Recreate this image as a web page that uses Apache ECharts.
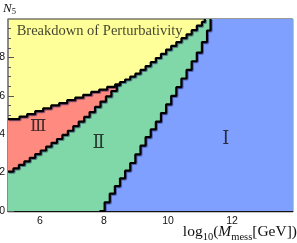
<!DOCTYPE html>
<html><head><meta charset="utf-8">
<script src="https://cdn.jsdelivr.net/npm/echarts@6/dist/echarts.min.js"></script>
<style>html,body{margin:0;padding:0;background:#fff}#c{width:297px;height:243px}</style>
</head><body><div id="c"></div>
<script>
// ---- data ----
const xMin = 5, xMax = 13.9, yMin = 0, yMax = 10;
const xMajorTicks = [6, 8, 10, 12];
const xMinorTicks = [5.5, 6.5, 7, 7.5, 8.5, 9, 9.5, 10.5, 11, 11.5, 12.5, 13, 13.5];
const yMajorTicks = [0, 2, 4, 6, 8];
const yMinorTicks = [0.5, 1, 1.5, 2.5, 3, 3.5, 4.5, 5, 5.5, 6.5, 7, 7.5, 8.5, 9, 9.5];

// upper edge of region III (border with "Breakdown of Perturbativity")
const uLeftX = [5.0, 5.36, 5.6, 5.85, 6.1, 6.35, 6.6, 6.85, 7.1, 7.35, 7.6, 7.85, 8.1, 8.35, 8.5];
const uLeftY = [4.78, 4.92, 5.05, 5.2, 5.35, 5.5, 5.62, 5.77, 5.9, 6.05, 6.2, 6.32, 6.47, 6.6, 6.72];
// upper edge of region II (border with breakdown region)
const uRightX = [8.66, 8.82, 8.98, 9.14, 9.30, 9.46, 9.62, 9.78, 9.94, 10.10, 10.26, 10.42, 10.58, 10.74, 10.90, 11.06, 11.15];
const uRightY = [6.85, 7.0, 7.15, 7.35, 7.55, 7.75, 7.97, 8.18, 8.4, 8.6, 8.8, 9.0, 9.2, 9.42, 9.65, 9.85, 10];
// border between region III and region II
const rX = [5.00, 5.17, 5.34, 5.51, 5.68, 5.85, 6.02, 6.19, 6.36, 6.53, 6.70, 6.87, 7.04, 7.21, 7.38, 7.55, 7.72, 7.89, 8.06, 8.23, 8.40, 8.5];
const rY = [2.05, 2.22, 2.40, 2.58, 2.77, 2.96, 3.15, 3.35, 3.55, 3.75, 3.96, 4.18, 4.42, 4.66, 4.90, 5.15, 5.42, 5.70, 5.97, 6.25, 6.55, 6.72];
// border between region II and region I
const lX = [7.86, 8.02, 8.18, 8.34, 8.50, 8.66, 8.82, 8.98, 9.14, 9.30, 9.46, 9.62, 9.78, 9.94, 10.10, 10.26, 10.42, 10.58, 10.74, 10.90, 11.06, 11.22, 11.33];
const lY = [0, 0.45, 0.9, 1.3, 1.7, 2.1, 2.5, 2.95, 3.4, 3.85, 4.25, 4.65, 5.1, 5.55, 6.0, 6.45, 6.9, 7.35, 7.8, 8.25, 8.8, 9.4, 10];

// region labels
const regionNames = ['Ⅲ', 'Ⅱ', 'Ⅰ'];
const regionX = [5.94, 7.83, 11.81];
const regionY = [4.4, 3.55, 3.75];
const breakdownText = 'Breakdown of Perturbativity';
const breakdownPos = [5.27, 9.35];

// ---- colours ----
const cYellow = '#ffff99', cRed = '#ff8a80', cGreen = '#80d8a8', cBlue = '#80a0ff';

const zip = (xs, ys) => xs.map((x, i) => [x, ys[i]]);
const uAll = zip(uLeftX, uLeftY).concat(zip(uRightX, uRightY));

function area(data, color) {
  return { type: 'line', z: 3, step: 'end', data, symbol: 'none', silent: true,
    lineStyle: { width: 0 }, areaStyle: { color, opacity: 1, origin: 'start' } };
}
function edge(data) {
  return { type: 'line', z: 4, step: 'end', data, symbol: 'none', silent: true,
    lineStyle: { color: '#000', width: 2.2, shadowColor: 'rgba(20,20,90,0.45)', shadowOffsetX: 1, shadowOffsetY: 1, shadowBlur: 0 } };
}
function textMark(pos, text, align, font, size) {
  return { type: 'scatter', z: 10, symbol: 'circle', symbolSize: 1, silent: true, itemStyle: { color: 'rgba(0,0,0,0)' },
    data: [{ value: pos, name: text }],
    label: { show: true, position: 'inside', align, verticalAlign: 'middle', formatter: p => p.name,
             fontFamily: font, fontSize: size, color: '#111' } };
}

const serif = 'Liberation Serif';
const sans = 'Liberation Sans';
const base = { fontFamily: serif, color: '#111', fontWeight: 'normal' };

const chart = echarts.init(document.getElementById('c'), null, { renderer: 'canvas' });
chart.setOption({
  animation: false,
  title: [
    { text: '{a|log}{s|10}{a|(}{i|M}{s|mess}{a|[GeV])}', right: 0, bottom: 0, padding: 0,
      textStyle: { fontWeight: 'normal', rich: {
        a: Object.assign({ fontSize: 15.5, lineHeight: 15, verticalAlign: 'top' }, base),
        i: Object.assign({ fontSize: 15.5, fontStyle: 'italic', lineHeight: 15, verticalAlign: 'top' }, base),
        s: Object.assign({ fontSize: 10.5, lineHeight: 19.5, verticalAlign: 'bottom' }, base) } } },
    { text: '{i|N}{s|5}', left: 3, top: 2, padding: 0,
      textStyle: { fontWeight: 'normal', rich: {
        i: Object.assign({ fontSize: 13, fontStyle: 'italic', lineHeight: 13, verticalAlign: 'top' }, base),
        s: Object.assign({ fontSize: 8.5, lineHeight: 14, verticalAlign: 'bottom' }, base) } } }
  ],
  grid: { left: 8, right: 4.2, top: 19, bottom: 32, containLabel: false, outerBoundsMode: 'none',
          show: true, backgroundColor: cYellow, borderColor: '#333', borderWidth: 1 },
  xAxis: [
    { type: 'value', min: xMin, max: xMax, gridIndex: 0, position: 'bottom',
      axisLine: { show: true, lineStyle: { color: '#111', width: 1.4 } },
      axisTick: { show: true, inside: true, length: 6, customValues: xMajorTicks, lineStyle: { color: '#333' } },
      axisLabel: { show: true, customValues: xMajorTicks, margin: 5, fontFamily: sans, fontSize: 10.5, color: '#111' },
      splitLine: { show: false } },
    { type: 'value', min: xMin, max: xMax, gridIndex: 0, position: 'bottom', show: true,
      axisLine: { show: false },
      axisTick: { show: true, inside: true, length: 3, customValues: xMinorTicks, lineStyle: { color: '#333' } },
      axisLabel: { show: false }, splitLine: { show: false } }
  ],
  yAxis: [
    { type: 'value', min: yMin, max: yMax, gridIndex: 0, position: 'left',
      axisLine: { show: true, lineStyle: { color: '#888', width: 1.6 } },
      axisTick: { show: true, inside: true, length: 6, customValues: yMajorTicks, lineStyle: { color: '#555' } },
      axisLabel: { show: true, customValues: yMajorTicks, margin: 3, fontFamily: sans, fontSize: 10.5, color: '#111' },
      splitLine: { show: false } },
    { type: 'value', min: yMin, max: yMax, gridIndex: 0, position: 'left', show: true,
      axisLine: { show: false },
      axisTick: { show: true, inside: true, length: 3, customValues: yMinorTicks, lineStyle: { color: '#555' } },
      axisLabel: { show: false }, splitLine: { show: false } }
  ],
  series: [
    area(uAll.concat([[xMax, yMax]]), cGreen),
    area(zip(uLeftX, uLeftY), cRed),
    area(zip(rX, rY), cGreen),
    area(zip(lX, lY).concat([[xMax, yMax]]), cBlue),
    edge(uAll),
    edge(zip(rX, rY)),
    edge(zip(lX, lY)),
    textMark([regionX[0], regionY[0]], regionNames[0], 'center', 'DejaVu Serif', 17),
    textMark([regionX[1], regionY[1]], regionNames[1], 'center', 'DejaVu Serif', 18),
    textMark([regionX[2], regionY[2]], regionNames[2], 'center', 'DejaVu Serif', 18),
    textMark(breakdownPos, breakdownText, 'left', serif, 14.5)
  ]
});
</script></body></html>
